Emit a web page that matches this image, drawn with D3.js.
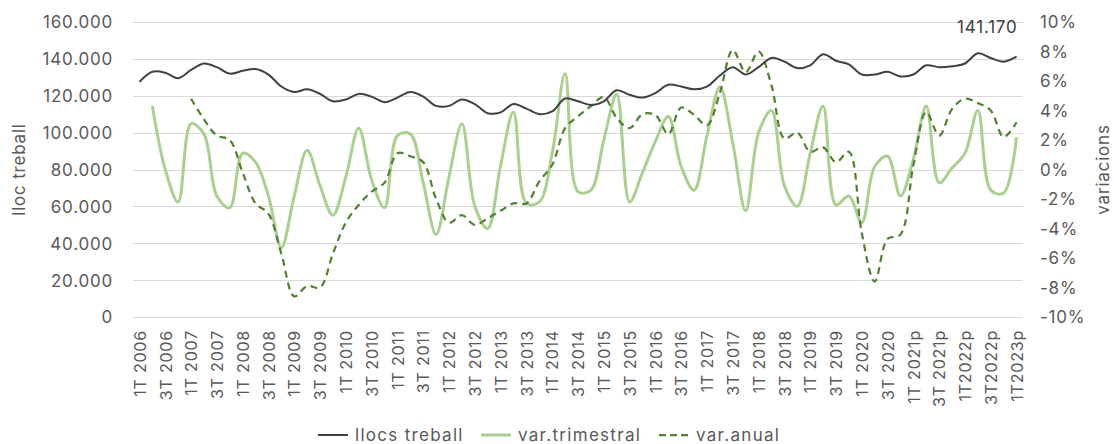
<!DOCTYPE html>
<html>
<head>
<meta charset="utf-8">
<script src="https://cdn.jsdelivr.net/npm/d3@7"></script>
<style>
  body { margin: 0; background: #fff; }
  svg text { font-family: Inter, "Noto Sans", sans-serif; fill: #595959; letter-spacing: 0.8px; }
</style>
</head>
<body>
<div class="chart"></div>
<script>
var w = 1114,
  h = 444;

// quarters
var quarters = [
  '1T 2006', '2T 2006', '3T 2006', '4T 2006', '1T 2007', '2T 2007', '3T 2007', '4T 2007',
  '1T 2008', '2T 2008', '3T 2008', '4T 2008', '1T 2009', '2T 2009', '3T 2009', '4T 2009',
  '1T 2010', '2T 2010', '3T 2010', '4T 2010', '1T 2011', '2T 2011', '3T 2011', '4T 2011',
  '1T 2012', '2T 2012', '3T 2012', '4T 2012', '1T 2013', '2T 2013', '3T 2013', '4T 2013',
  '1T 2014', '2T 2014', '3T 2014', '4T 2014', '1T 2015', '2T 2015', '3T 2015', '4T 2015',
  '1T 2016', '2T 2016', '3T 2016', '4T 2016', '1T 2017', '2T 2017', '3T 2017', '4T 2017',
  '1T 2018', '2T 2018', '3T 2018', '4T 2018', '1T 2019', '2T 2019', '3T 2019', '4T 2019',
  '1T 2020', '2T 2020', '3T 2020', '4T 2020', '1T 2021p', '2T 2021p', '3T 2021p', '4T 2021p',
  '1T2022p', '2T2022p', '3T2022p', '4T2022p', '1T2023p'
];

// llocs de treball
var llocs = [
  127500, 133000, 132500, 129500, 134000, 137500, 135500, 132000,
  133500, 134500, 131500, 125000, 122000, 123500, 121000, 117000,
  118000, 121000, 119500, 116500, 119000, 122000, 119500, 114500,
  114500, 118000, 115500, 110500, 111000, 115500, 113000, 110000,
  111500, 118500, 117000, 115000, 117000, 123000, 120500, 119000,
  121500, 126000, 125000, 123500, 125000, 131000, 135500, 131500,
  135500, 140500, 138500, 135000, 136500, 142500, 139000, 137000,
  131500, 131500, 133000, 130500, 131500, 136500, 135500, 136000,
  137500, 143000, 140500, 138500, 141170
];

// variacio trimestral (%)
var varTrim = [
  null, 4.3, 0.0, -2.2, 3.1, 2.4, -1.8, -2.6,
  1.1, 0.5, -1.8, -5.3, -1.8, 1.3, -1.1, -3.1,
  -0.5, 2.8, -0.7, -2.6, 2.3, 2.4, -0.9, -4.4,
  -0.5, 3.1, -2.5, -4.0, 0.3, 3.9, -2.3, -2.2,
  1.1, 6.5, -1.5, -1.4, 2.0, 5.1, -2.2, -0.2,
  1.9, 3.6, 0.2, -1.4, 2.3, 5.6, 1.8, -2.8,
  2.5, 4.0, -1.1, -2.5, 1.1, 4.3, -2.4, -1.8,
  -3.6, 0.2, 0.9, -1.8, 0.7, 4.3, -0.9, 0.1,
  1.1, 4.0, -1.4, -1.6, 2.2
];

// variacio anual (%)
var varAnual = [
  null, null, null, null, 4.8, 3.4, 2.3, 2.0,
  -0.2, -2.3, -3.0, -5.7, -8.6, -7.9, -8.0, -5.7,
  -3.6, -2.4, -1.5, -0.9, 1.1, 0.9, 0.5, -2.0,
  -3.6, -3.1, -3.75, -3.3, -2.8, -2.3, -2.3, -0.8,
  0.3, 2.8, 3.6, 4.3, 4.9, 3.5, 2.8, 3.75,
  3.7, 2.4, 4.2, 3.7, 3.0, 5.2, 8.1, 6.6,
  8.0, 5.7, 2.1, 2.5, 1.2, 1.5, 0.5, 1.2,
  -4.3, -7.6, -4.7, -4.4, 0.3, 3.9, 2.3, 4.1,
  4.8, 4.5, 4.0, 2.2, 3.2
];

var leftTicks = [0, 20000, 40000, 60000, 80000, 100000, 120000, 140000, 160000];
var rightTicks = [-10, -8, -6, -4, -2, 0, 2, 4, 6, 8, 10];

var margin = { top: 22, right: 91, bottom: 127, left: 133 };

var svg = d3.select('.chart')
  .append('svg')
  .attr('width', w)
  .attr('height', h);

var x = d3.scalePoint()
  .domain(quarters)
  .range([margin.left, w - margin.right])
  .padding(0.5);

var yLeft = d3.scaleLinear()
  .domain([0, 160000])
  .range([h - margin.bottom, margin.top]);

var yRight = d3.scaleLinear()
  .domain([-10, 10])
  .range([h - margin.bottom, margin.top]);

var fmtThousands = function (d) {
  return d3.format(',')(d).replace(/,/g, '.');
};

// gridlines
svg.append('g')
  .selectAll('line')
  .data(leftTicks)
  .enter()
  .append('line')
  .attr('x1', margin.left)
  .attr('x2', w - margin.right)
  .attr('y1', d => Math.round(yLeft(d)) + 0.5)
  .attr('y2', d => Math.round(yLeft(d)) + 0.5)
  .attr('stroke', '#d9d9d9')
  .attr('stroke-width', 1);

// left axis
var leftAxis = svg.append('g')
  .attr('transform', 'translate(' + (margin.left - 20) + ',0)')
  .call(d3.axisLeft(yLeft).tickValues(leftTicks).tickFormat(fmtThousands).tickSize(0));
leftAxis.select('.domain').remove();
leftAxis.selectAll('text').attr('font-size', '17px').attr('x', 0).attr('dy', '0.35em');

// right axis
var rightAxis = svg.append('g')
  .attr('transform', 'translate(' + (w - margin.right + 17) + ',0)')
  .call(d3.axisRight(yRight).tickValues(rightTicks).tickFormat(d => d + '%').tickSize(0));
rightAxis.select('.domain').remove();
rightAxis.selectAll('text').attr('font-size', '17px').attr('x', 0).attr('dy', '0.35em');

// x axis
var xAxis = svg.append('g')
  .attr('transform', 'translate(0,' + (h - margin.bottom) + ')')
  .call(d3.axisBottom(x).tickValues(quarters.filter((d, i) => i % 2 === 0)).tickSize(0));
xAxis.select('.domain').remove();
xAxis.selectAll('text')
  .attr('font-size', '16px')
  .attr('transform', 'rotate(-90)')
  .attr('text-anchor', 'end')
  .attr('x', -13)
  .attr('y', 0)
  .attr('dy', '0.36em');

// axis titles
svg.append('text')
  .attr('transform', 'translate(25,' + ((margin.top + h - margin.bottom) / 2) + ') rotate(-90)')
  .attr('text-anchor', 'middle')
  .attr('font-size', '17px')
  .text('lloc treball');

svg.append('text')
  .attr('transform', 'translate(1109,' + ((margin.top + h - margin.bottom) / 2) + ') rotate(-90)')
  .attr('text-anchor', 'middle')
  .attr('font-size', '17px')
  .text('variacions');

// lines
var curve = d3.curveCatmullRom.alpha(0.5);

var lineLeft = d3.line()
  .defined(d => d != null)
  .x((d, i) => x(quarters[i]))
  .y(d => yLeft(d))
  .curve(curve);

var lineRight = d3.line()
  .defined(d => d != null)
  .x((d, i) => x(quarters[i]))
  .y(d => yRight(d))
  .curve(curve);

svg.append('path')
  .datum(varTrim)
  .attr('d', lineRight)
  .attr('fill', 'none')
  .attr('stroke', '#a9d18e')
  .attr('stroke-width', 3);

svg.append('path')
  .datum(varAnual)
  .attr('d', lineRight)
  .attr('fill', 'none')
  .attr('stroke', '#548235')
  .attr('stroke-width', 2.25)
  .attr('stroke-dasharray', '7,5');

svg.append('path')
  .datum(llocs)
  .attr('d', lineLeft)
  .attr('fill', 'none')
  .attr('stroke', '#404040')
  .attr('stroke-width', 2);

// data label on last point
var last = llocs.length - 1;
svg.append('text')
  .attr('x', x(quarters[last]) + 1)
  .attr('y', yLeft(llocs[last]) - 24)
  .attr('text-anchor', 'end')
  .attr('font-size', '17px')
  .style('fill', '#404040')
  .text(fmtThousands(llocs[last]));

// legend
var legend = [
  { name: 'llocs treball', color: '#404040', width: 2, dash: null, x: 318 },
  { name: 'var.trimestral', color: '#a9d18e', width: 3, dash: null, x: 481 },
  { name: 'var.anual', color: '#548235', width: 2.25, dash: '7,4', x: 659 }
];

var lg = svg.append('g')
  .selectAll('g')
  .data(legend)
  .enter()
  .append('g')
  .attr('transform', d => 'translate(' + d.x + ',435)');

lg.append('line')
  .attr('x1', 0)
  .attr('x2', 30)
  .attr('stroke', d => d.color)
  .attr('stroke-width', d => d.width)
  .attr('stroke-dasharray', d => d.dash);

lg.append('text')
  .attr('x', 37)
  .attr('dy', '0.35em')
  .attr('font-size', '17px')
  .style('letter-spacing', '1.3px')
  .text(d => d.name);
</script>
</body>
</html>
